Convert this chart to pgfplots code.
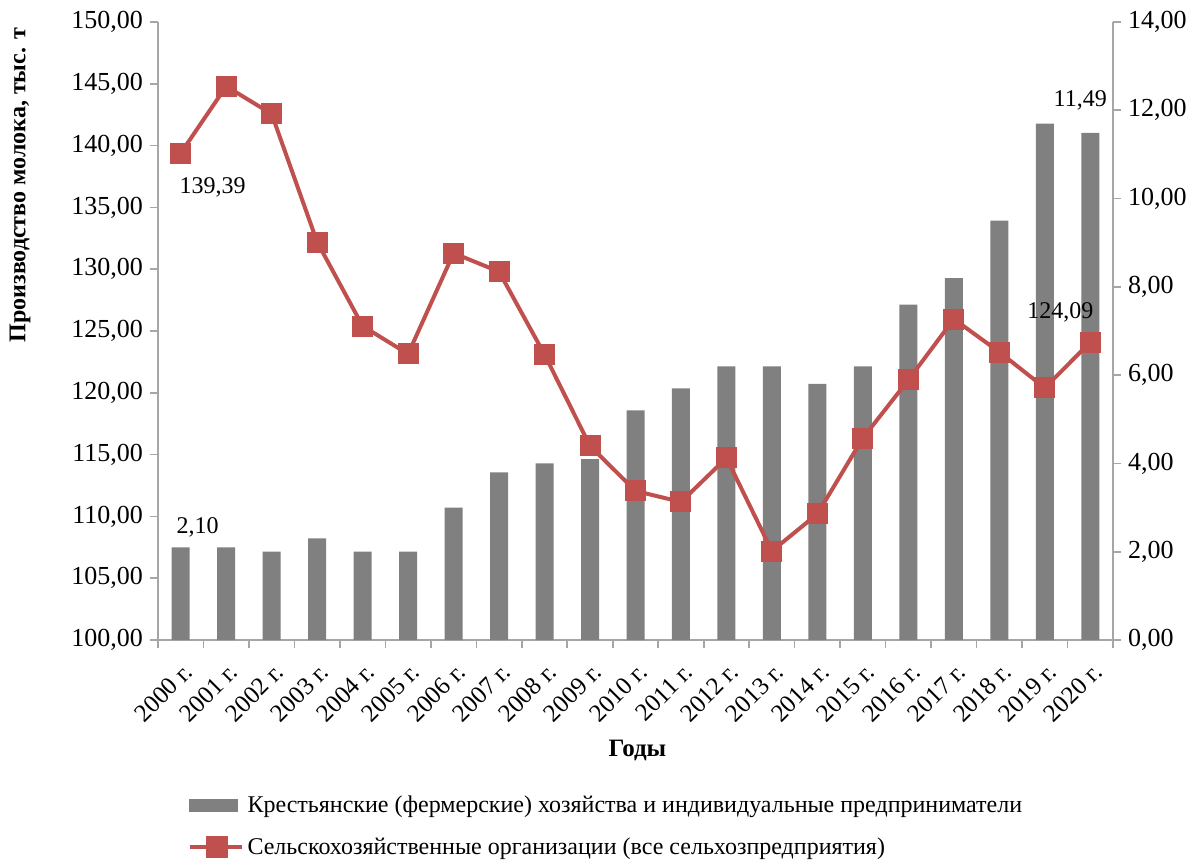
\documentclass[border=0pt]{standalone}
\usepackage{fontspec}
\setmainfont{Liberation Serif}
\usepackage{pgfplots}
\usepackage{pgfplotstable}
\pgfplotsset{compat=1.18}

\definecolor{barg}{HTML}{808080}
\definecolor{linr}{HTML}{C0504D}
\definecolor{axg}{HTML}{A6A6A6}

\pgfplotstableread{
x bar line
0 2.10 139.39
1 2.10 144.80
2 2.00 142.56
3 2.30 132.20
4 2.00 125.40
5 2.00 123.14
6 3.00 131.30
7 3.80 129.80
8 4.00 123.10
9 4.10 115.70
10 5.20 112.06
11 5.70 111.17
12 6.20 114.73
13 6.20 107.20
14 5.80 110.20
15 6.20 116.34
16 7.60 121.04
17 8.20 125.97
18 9.50 123.30
19 11.70 120.40
20 11.49 124.09
}\data

\pgfplotsset{
  common/.style={
    scale only axis, width=477.5pt, height=309pt,
    xmin=-0.5, xmax=20.5,
    axis line style={draw=axg, line width=0.8pt},
    tick style={draw=axg, line width=0.8pt},
    tick align=outside,
    major tick length=4pt, minor tick length=4pt,
    clip=false,
    tick label style={font=\fontsize{13}{15}\selectfont},
    yticklabel style={/pgf/number format/.cd, fixed, fixed zerofill, precision=2, use comma, 1000 sep={}, assume math mode=true},
  }
}

\begin{document}
\begin{tikzpicture}
\path[use as bounding box] (-79pt,-109.5pt) rectangle (516pt,320pt);
\begin{axis}[common,
  at={(0,0)}, anchor=south west,
  ymin=0, ymax=14,
  axis y line*=right, axis x line*=bottom,
  ytick={0,2,...,14},
  xtick={0,...,20},
  xticklabels={2000 г.,2001 г.,2002 г.,2003 г.,2004 г.,2005 г.,2006 г.,2007 г.,2008 г.,2009 г.,2010 г.,2011 г.,2012 г.,2013 г.,2014 г.,2015 г.,2016 г.,2017 г.,2018 г.,2019 г.,2020 г.},
  major x tick style={draw=none},
  minor xtick={-0.5,0.5,...,20.5},
  x tick label style={rotate=45, anchor=north east, font=\fontsize{12.5}{15}\selectfont, xshift=-1pt, yshift=-2pt},
  xlabel={\textbf{Годы}},
  xlabel style={at={(axis description cs:0.502,-0.178)}, anchor=center, font=\fontsize{12.5}{15}\selectfont},
]
\addplot[ybar, bar width=9pt, fill=barg, draw=none] table[x=x, y=bar]{\data};
\node[font=\fontsize{12}{14}\selectfont] at (axis cs:0,2.10) [xshift=8.5pt, yshift=10pt] {2,10};
\node[font=\fontsize{12}{14}\selectfont] at (axis cs:20,11.49) [xshift=-5pt, yshift=16pt] {11,49};
\end{axis}
\begin{axis}[common,
  at={(0,0)}, anchor=south west,
  ymin=100, ymax=150,
  axis y line*=left, axis x line=none,
  ytick={100,105,...,150},
  ylabel={\textbf{Производство молока, тыс. т}},
  ylabel style={at={(axis description cs:-0.1445,0.736)}, anchor=center, font=\fontsize{12}{14}\selectfont},
  legend style={draw=none, fill=none, at={(axis description cs:0.47,-0.245)}, anchor=north, cells={anchor=west}, row sep=7pt, font=\fontsize{12}{14}\selectfont, inner sep=0pt},
  legend columns=1,
]
\addlegendimage{legend image code/.code={\fill[barg] (0pt,-3pt) rectangle (24pt,3pt);}}
\addlegendentry{Крестьянские (фермерские) хозяйства и индивидуальные предприниматели}
\addplot[linr, line width=2pt, mark=square*, mark size=5pt, mark options={fill=linr, draw=linr, line width=0pt},
  legend image code/.code={\draw[linr, line width=2pt] (0pt,0pt) -- (26pt,0pt); \fill[linr] (9pt,-4.5pt) rectangle (18pt,4.5pt);}]
  table[x=x, y=line]{\data};
\addlegendentry{Сельскохозяйственные организации (все сельхозпредприятия)}
\node[font=\fontsize{12}{14}\selectfont] at (axis cs:0,139.39) [xshift=16pt, yshift=-17pt] {139,39};
\node[font=\fontsize{12}{14}\selectfont] at (axis cs:20,124.09) [xshift=-15pt, yshift=15pt] {124,09};
\end{axis}
\end{tikzpicture}
\end{document}
